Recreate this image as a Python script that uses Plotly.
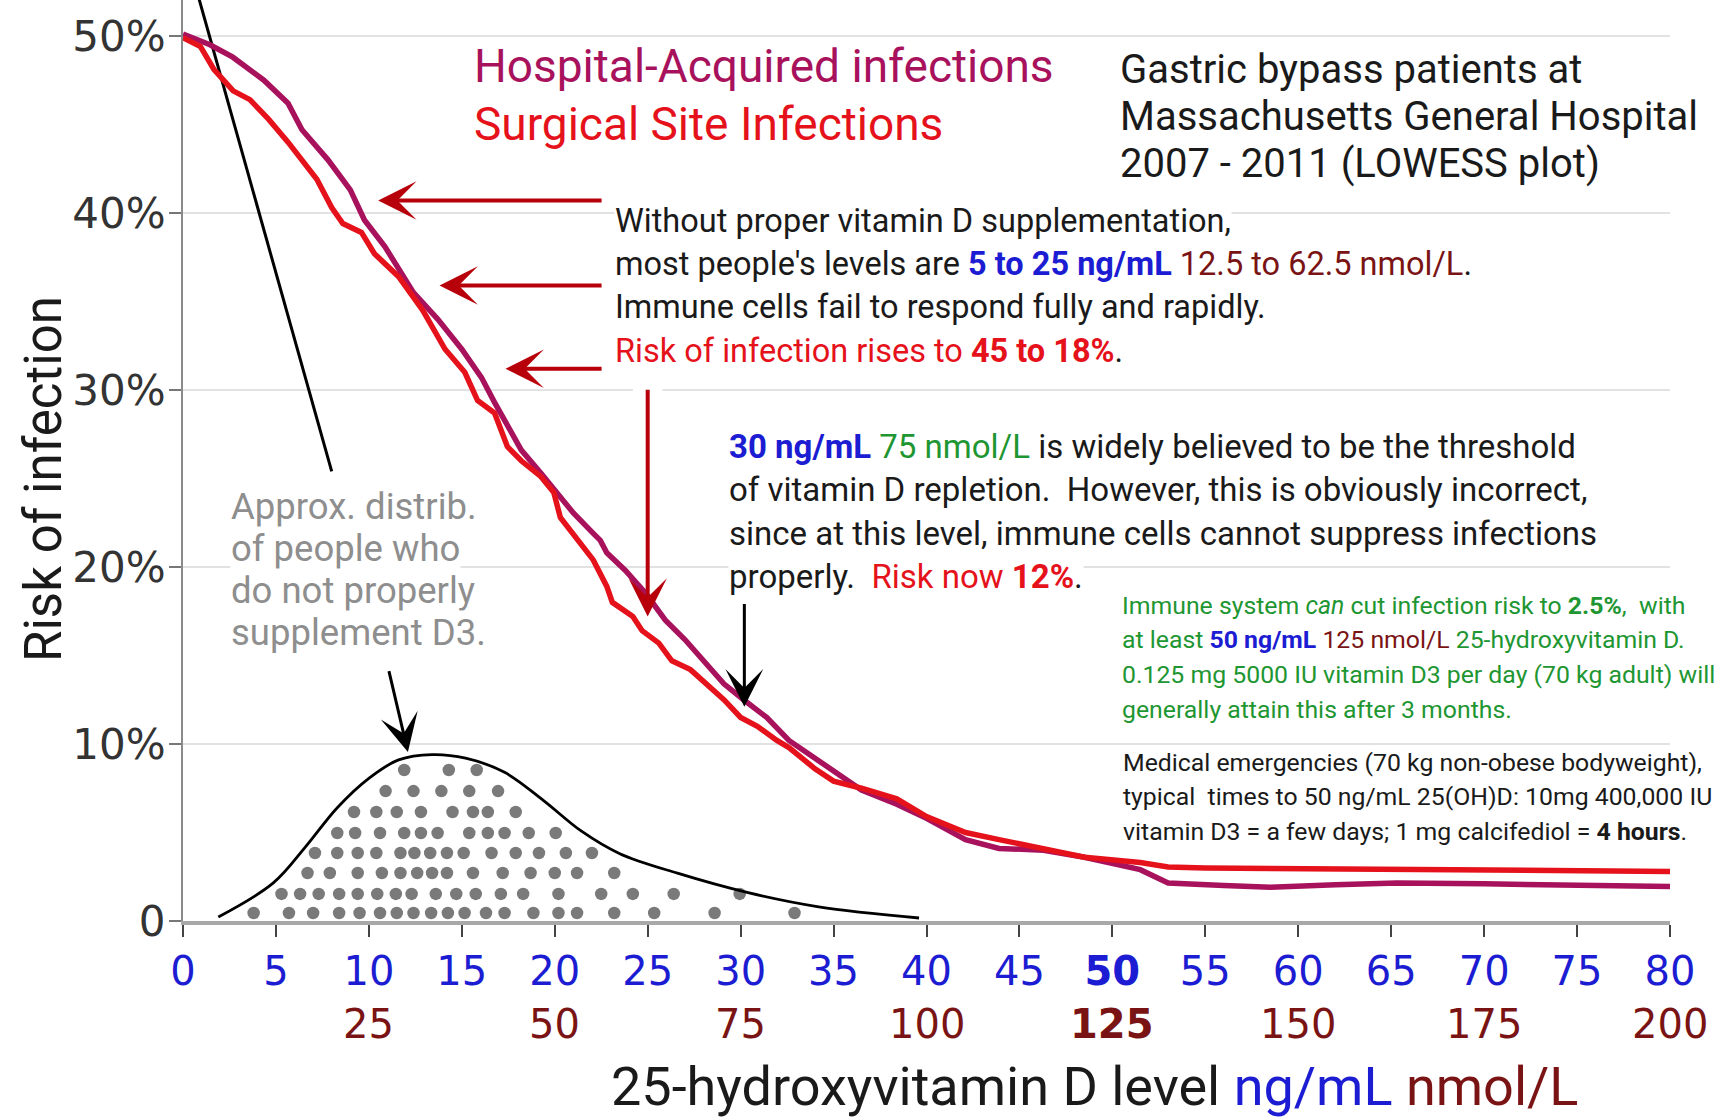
import plotly.graph_objects as go

# ---------------- data ----------------
# Hospital-Acquired infections (LOWESS)  x: 25(OH)D ng/mL, y: risk %
hai_x = [0, 1.45, 2.68, 4.35, 5.65, 6.4, 7.8, 9.0, 9.76, 10.86, 12.4, 13.7, 15.0, 16.06,
         16.76, 17.66, 18.2, 19.26, 19.95, 21.0, 22.07, 22.45, 22.8, 23.8, 24.9, 25.95,
         27.0, 28.05, 29.1, 30.16, 31.4, 32.6, 34.0, 35.0, 36.5, 38.4, 40.0, 42.1, 43.9,
         46.3, 48.5, 51.5, 53.0, 56.0, 58.5, 62.0, 65.3, 70.0, 75.0, 80.0]
hai_y = [50.1, 49.5, 48.8, 47.5, 46.2, 44.7, 43.0, 41.3, 39.6, 38.1, 35.5, 34.0, 32.3, 30.7,
         29.3, 27.7, 26.6, 25.3, 24.4, 23.05, 21.9, 21.5, 20.8, 19.8, 18.5, 17.0,
         15.9, 14.7, 13.4, 12.5, 11.5, 10.2, 9.2, 8.4, 7.4, 6.6, 5.8, 4.6, 4.1,
         4.0, 3.6, 2.9, 2.15, 2.0, 1.9, 2.05, 2.15, 2.1, 2.05, 1.95]

# Surgical Site Infections (LOWESS)
ssi_x = [0, 0.94, 1.67, 2.7, 3.6, 4.6, 5.65, 6.4, 7.2, 8.0, 8.6, 9.6, 10.3, 11.6, 12.9,
         14.1, 15.16, 15.85, 16.76, 17.45, 18.2, 19.26, 19.95, 20.3, 21.15, 22.07, 22.8,
         23.1, 24.2, 24.7, 25.6, 26.3, 27.3, 28.4, 29.1, 30.0, 30.9, 31.95, 32.6, 34.0,
         35.0, 36.5, 38.4, 40.0, 42.1, 43.9, 46.3, 48.5, 51.5, 53.0, 55.0, 60.0, 70.0, 80.0]
ssi_y = [49.9, 49.4, 48.1, 46.9, 46.4, 45.3, 44.0, 43.0, 41.9, 40.3, 39.4, 38.9, 37.7, 36.4, 34.5,
         32.3, 31.0, 29.4, 28.7, 26.8, 26.0, 25.1, 24.2, 22.8, 21.7, 20.4, 18.9,
         18.0, 17.2, 16.4, 15.7, 14.7, 14.2, 13.2, 12.5, 11.5, 11.0, 10.2, 9.8, 8.6,
         7.9, 7.5, 6.9, 5.9, 5.0, 4.6, 4.1, 3.6, 3.3, 3.05, 3.0, 2.95, 2.9, 2.8]

# Approximate distribution envelope of people not supplementing D3
dist_x = [1.9, 4.86, 6.6, 8.3, 10.05, 11.6, 13.4, 15.2, 17.3, 19.4, 21.4, 23.5, 26.6, 30.4, 34.2, 39.6]
dist_y = [0.23, 2.15, 4.2, 6.4, 8.1, 9.1, 9.4, 9.2, 8.4, 6.8, 5.1, 3.8, 2.7, 1.6, 0.8, 0.17]

# Dot rows (y level of each row, and x of each dot in the row)
dot_row_levels = [8.53, 7.34, 6.16, 4.97, 3.84, 2.71, 1.53, 0.45]
dot_row_x = [
    [11.9, 14.3, 15.8],
    [10.9, 12.4, 13.9, 15.4, 16.95],
    [9.2, 10.4, 11.5, 12.8, 14.5, 15.6, 16.4, 17.9],
    [8.3, 9.26, 10.6, 11.9, 12.8, 13.7, 15.4, 16.4, 17.3, 18.6, 20.05],
    [7.1, 8.3, 9.4, 10.4, 11.7, 12.45, 13.3, 14.2, 15.1, 16.6, 17.9, 19.15, 20.6, 22.0],
    [6.7, 7.9, 9.4, 10.7, 11.7, 12.6, 13.4, 14.2, 15.6, 17.2, 18.7, 20.0, 21.2, 23.2],
    [5.3, 6.3, 7.3, 8.4, 9.4, 10.45, 11.45, 12.3, 13.6, 14.7, 15.75, 17.1, 18.3, 20.2,
     22.5, 24.2, 26.4, 29.95],
    [3.8, 5.7, 7.0, 8.4, 9.5, 10.6, 11.5, 12.4, 13.35, 14.25, 15.15, 16.3, 17.3, 18.85,
     20.2, 21.2, 23.2, 25.35, 28.6, 32.9],
]

# Black pointer line from the distribution label towards the top
pointer_x = [0.62, 8.0]
pointer_y = [53.0, 25.4]

# Axis ticks
x_tick_vals = list(range(0, 85, 5))
x_tick_text = [str(v) if v != 50 else "<b>50</b>" for v in x_tick_vals]
nmol_vals = [10, 20, 30, 40, 50, 60, 70, 80]
nmol_text = ["25", "50", "75", "100", "<b>125</b>", "150", "175", "200"]
y_tick_vals = [0, 10, 20, 30, 40, 50]
y_tick_text = ["0", "10%", "20%", "30%", "40%", "50%"]

# ---------------- styling ----------------
PURPLE = "#A8125C"
RED = "#E5121B"
ARROW_RED = "#B8000A"
BLUE = "#1C1CD2"
DARKRED = "#7A1414"
GREEN = "#1E9632"
GRAY_TXT = "#8E8E8E"
TXT = "#1A1A1A"
FONT = "Roboto"

W, H = 1724, 1117
ML, MR, MT, MB = 183, 54, 0, 196
PW = W - ML - MR
PH = H - MT - MB


def px_x(px):
    return (px - ML) / PW


def px_y(py):
    return (MT + PH - py) / PH


fig = go.Figure()

# dots
for lvl, xs in zip(dot_row_levels, dot_row_x):
    fig.add_trace(go.Scatter(x=xs, y=[lvl] * len(xs), mode="markers",
                             marker=dict(size=12.5, color="#7A7A7A"),
                             showlegend=False, hoverinfo="skip"))

fig.add_trace(go.Scatter(x=dist_x, y=dist_y, mode="lines",
                         line=dict(color="black", width=2.8, shape="spline", smoothing=1.0),
                         showlegend=False, hoverinfo="skip"))
fig.add_trace(go.Scatter(x=pointer_x, y=pointer_y, mode="lines",
                         line=dict(color="black", width=3), showlegend=False, hoverinfo="skip"))
fig.add_trace(go.Scatter(x=hai_x, y=hai_y, mode="lines", name="Hospital-Acquired infections",
                         line=dict(color=PURPLE, width=5.5), showlegend=False))
fig.add_trace(go.Scatter(x=ssi_x, y=ssi_y, mode="lines", name="Surgical Site Infections",
                         line=dict(color=RED, width=5.5), showlegend=False))

# white patches that interrupt gridlines (drawn between grid and traces)
fig.add_shape(type="rect", x0=24.2, x1=25.8, y0=29.4, y1=30.6, xref="x", yref="y",
              fillcolor="white", line=dict(width=0), layer="between")
for x0px, y0, y1 in [(1083, 9.4, 10.6), (1110, 19.4, 20.6)]:
    fig.add_shape(type="rect", x0=px_x(x0px), x1=1.01, y0=y0, y1=y1, xref="paper", yref="y",
                  fillcolor="white", line=dict(width=0), layer="between")

ann = []

# arrows (tip x,y ; tail ax,ay) in data coords
arrows = [
    (10.5, 40.7, 22.6, 40.7, ARROW_RED, 4, 1.6),
    (13.8, 35.9, 22.6, 35.9, ARROW_RED, 4, 1.6),
    (17.35, 31.2, 22.6, 31.2, ARROW_RED, 4, 1.6),
    (25.0, 17.2, 25.0, 30.1, ARROW_RED, 4, 1.6),
    (30.2, 12.1, 30.2, 18.0, "black", 3, 2.1),
    (12.1, 9.55, 11.06, 14.2, "black", 3, 2.1),
]
for x, y, ax, ay, col, wdt, sz in arrows:
    ann.append(dict(x=x, y=y, ax=ax, ay=ay, xref="x", yref="y", axref="x", ayref="y",
                    text="", showarrow=True, arrowhead=3, arrowsize=sz, arrowwidth=wdt,
                    arrowcolor=col, standoff=0))


def span(t, c):
    return f"<span style='color:{c}'>{t}</span>"


NB = "\u00a0"
SMALL = 24.8
text_lines = [
    # (text, left px, center y px, size, color)
    ("Hospital-Acquired infections", 473, 66, 46, PURPLE),
    ("Surgical Site Infections", 473, 124, 46, RED),
    ("Gastric bypass patients at", 1119, 69, 40, TXT),
    ("Massachusetts General Hospital", 1119, 117, 40, TXT),
    ("2007 - 2011 (LOWESS plot)", 1119, 164, 40, TXT),
    ("Without proper vitamin D supplementation,", 614, 221, 32.5, TXT),
    ("most people's levels are " + "<b>" + span("5 to 25 ng/mL", BLUE) + "</b> "
     + span("12.5 to 62.5 nmol/L", DARKRED) + ".", 614, 264, 32.5, TXT),
    ("Immune cells fail to respond fully and rapidly.", 614, 307, 32.5, TXT),
    (span("Risk of infection rises to <b>45 to 18%</b>", RED) + ".", 614, 351, 32.5, TXT),
    ("Approx. distrib.", 230, 506, 36.5, GRAY_TXT),
    ("of people who", 230, 548, 36.5, GRAY_TXT),
    ("do not properly", 230, 590, 36.5, GRAY_TXT),
    ("supplement D3.", 230, 632, 36.5, GRAY_TXT),
    ("<b>" + span("30 ng/mL", BLUE) + "</b> " + span("75 nmol/L", GREEN)
     + " is widely believed to be the threshold", 728, 446, 33, TXT),
    ("of vitamin D repletion." + NB + " However, this is obviously incorrect,", 728, 489, 33, TXT),
    ("since at this level, immune cells cannot suppress infections", 728, 533, 33, TXT),
    ("properly." + NB + " " + span("Risk now <b>12%</b>", RED) + ".", 728, 576, 33, TXT),
    ("Immune system <i>can</i> cut infection risk to <b>2.5%</b>," + NB + " with", 1121, 605, SMALL, GREEN),
    ("at least <b>" + span("50 ng/mL", BLUE) + "</b> " + span("125 nmol/L", DARKRED)
     + " 25-hydroxyvitamin D.", 1121, 639, SMALL, GREEN),
    ("0.125 mg 5000 IU vitamin D3 per day (70 kg adult) will", 1121, 674, SMALL, GREEN),
    ("generally attain this after 3 months.", 1121, 709, SMALL, GREEN),
    ("Medical emergencies (70 kg non-obese bodyweight),", 1122, 762, SMALL, TXT),
    ("typical" + NB + " times to 50 ng/mL 25(OH)D: 10mg 400,000 IU", 1122, 796, SMALL, TXT),
    ("vitamin D3 = a few days; 1 mg calcifediol = <b>4 hours</b>.", 1122, 831, SMALL, TXT),
]
for t, lx, cy, s, c in text_lines:
    ann.append(dict(text=t, x=px_x(lx), y=px_y(cy), xref="paper", yref="paper",
                    xanchor="left", yanchor="middle", showarrow=False, align="left",
                    font=dict(family=FONT, size=s, color=c), bgcolor="white", borderpad=0))

# second row of x tick labels (nmol/L)
for v, t in zip(nmol_vals, nmol_text):
    ann.append(dict(text=t, x=v, y=px_y(1024), xref="x", yref="paper", showarrow=False,
                    xanchor="center", yanchor="middle",
                    font=dict(family="DejaVu Sans", size=40, color=DARKRED)))

# axis titles
ann.append(dict(text="25-hydroxyvitamin D level " + span("ng/mL", BLUE) + " " + span("nmol/L", DARKRED),
                x=px_x(1094), y=px_y(1086), xref="paper", yref="paper", showarrow=False,
                xanchor="center", yanchor="middle", font=dict(family=FONT, size=54, color=TXT)))
ann.append(dict(text="Risk of infection", textangle=-90, x=px_x(43), y=px_y(479),
                xref="paper", yref="paper", showarrow=False, xanchor="center", yanchor="middle",
                font=dict(family=FONT, size=51, color=TXT)))

fig.update_layout(
    width=W, height=H,
    margin=dict(l=ML, r=MR, t=MT, b=MB, pad=0),
    paper_bgcolor="white", plot_bgcolor="white",
    annotations=ann,
    xaxis=dict(range=[0, 80], tickvals=x_tick_vals, ticktext=x_tick_text,
               tickfont=dict(family="DejaVu Sans", size=40, color=BLUE),
               ticks="outside", ticklen=12, tickwidth=2, tickcolor="#444444",
               showline=True, linecolor="#A8A8A8", linewidth=4,
               showgrid=False, zeroline=False, fixedrange=True),
    yaxis=dict(range=[0, 52.03], tickvals=y_tick_vals, ticktext=y_tick_text,
               tickfont=dict(family="DejaVu Sans", size=42, color="#333333"),
               ticks="outside", ticklen=12, tickwidth=2, tickcolor="#777777",
               ticklabelstandoff=-5,
               showline=True, linecolor="#8A8A8A", linewidth=2,
               showgrid=True, gridcolor="#E2E2E2", gridwidth=2,
               zeroline=False, fixedrange=True),
)

fig.write_html("out.html", config={"displayModeBar": False},
               post_script="document.body.style.margin='0';document.body.style.overflow='hidden';")
